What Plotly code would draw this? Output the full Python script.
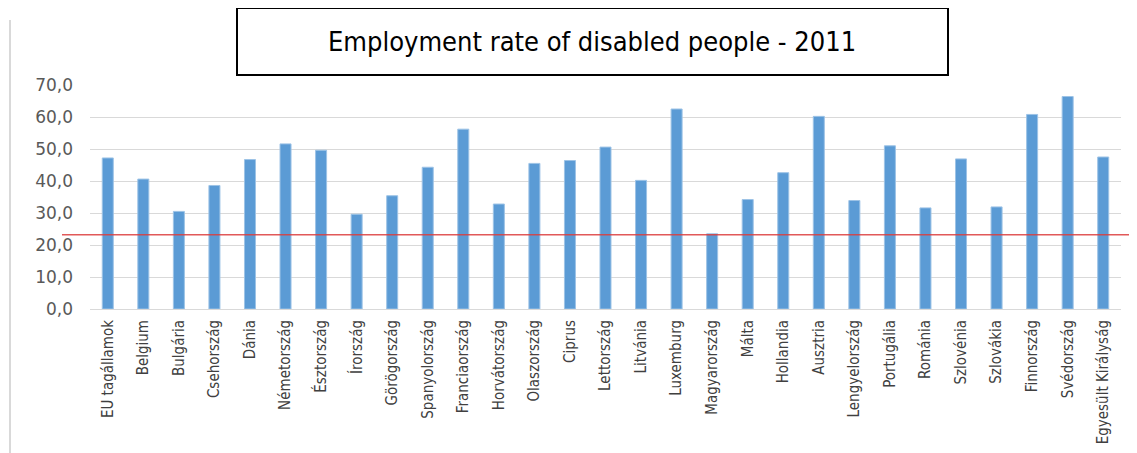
import plotly.graph_objects as go

countries = ["EU tagállamok", "Belgium", "Bulgária", "Csehország", "Dánia", "Németország",
             "Észtország", "Írország", "Görögország", "Spanyolország", "Franciaország",
             "Horvátország", "Olaszország", "Ciprus", "Lettország", "Litvánia", "Luxemburg",
             "Magyarország", "Málta", "Hollandia", "Ausztria", "Lengyelország", "Portugália",
             "Románia", "Szlovénia", "Szlovákia", "Finnország", "Svédország", "Egyesült Királyság"]
rates = [47.2, 40.6, 30.5, 38.6, 46.7, 51.6, 49.6, 29.6, 35.4, 44.3, 56.2, 32.8, 45.5, 46.4,
         50.6, 40.2, 62.5, 23.5, 34.2, 42.6, 60.2, 33.9, 51.0, 31.6, 46.9, 31.9, 60.8, 66.4, 47.5]
reference_level = 23.2
title_text = "Employment rate of disabled people - 2011"
y_ticks = [0, 10, 20, 30, 40, 50, 60, 70]

W, H = 1137, 453
OFF = 8  # page body margin
# plot area in screen pixels
PL, PR, PT, PB = 90, 1121, 85, 309


def px(x):
    return (x - PL) / (PR - PL)


def py(y):
    return (PB - y) / (PB - PT)


fig = go.Figure()
fig.add_trace(go.Bar(
    x=countries, y=rates,
    marker=dict(color="#5B9BD5", line=dict(color="#9DC3E6", width=1)),
    hoverinfo="x+y",
))

fig.add_shape(type="line", xref="paper", yref="y", x0=px(62), x1=px(1150),
              y0=reference_level, y1=reference_level,
              line=dict(color="rgba(220,60,60,0.85)", width=1.5), layer="above")
# left chart border
fig.add_shape(type="line", xref="paper", yref="paper", x0=px(10), x1=px(10),
              y0=py(470), y1=py(20), line=dict(color="#D9D9D9", width=2))
# title box
fig.add_shape(type="rect", xref="paper", yref="paper",
              x0=px(237), x1=px(948), y0=py(75), y1=py(8),
              line=dict(color="black", width=2), fillcolor="white")
fig.add_annotation(xref="paper", yref="paper", x=px(592), y=py(42),
                   text=title_text, showarrow=False, xanchor="center", yanchor="middle",
                   font=dict(family="Liberation Sans Narrow, DejaVu Sans Condensed, Noto Sans",
                             size=27, color="black"))

fig.update_layout(
    width=W, height=H,
    margin=dict(l=PL - OFF, r=W - (PR - OFF), t=PT - OFF, b=H - (PB - OFF)),
    paper_bgcolor="white", plot_bgcolor="white",
    separators=",.",
    showlegend=False,
    bargap=0.69,
    xaxis=dict(
        tickangle=-90,
        tickfont=dict(family="Liberation Sans Narrow, DejaVu Sans Condensed, Noto Sans",
                      size=15, color="#404040"),
        showline=True, linecolor="#D9D9D9", linewidth=1,
        ticks="", showgrid=False,
        ticklabelstandoff=4,
    ),
    yaxis=dict(
        range=[0, 70], tickvals=y_ticks, tickformat=".1f",
        tickfont=dict(family="DejaVu Sans", size=17, color="#595959"),
        showgrid=True, gridcolor="#D9D9D9", gridwidth=1,
        zeroline=False, showline=False, ticks="",
        ticklabelstandoff=16,
    ),
)

fig.write_html("out.html")
